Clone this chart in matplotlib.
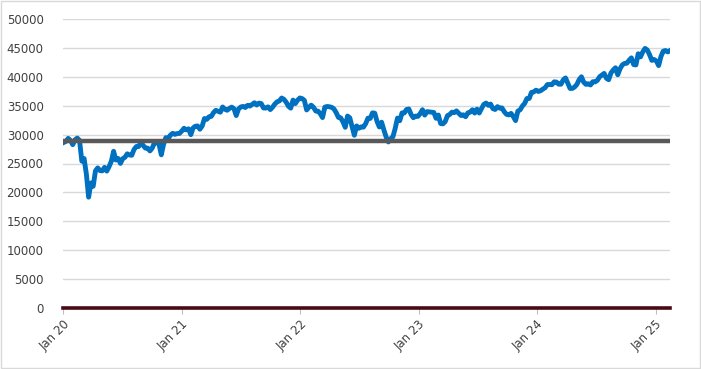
import matplotlib
matplotlib.use("Agg")

import matplotlib.pyplot as plt
import pandas as pd

# weekly closes
dates = pd.date_range("2020-01-03", "2025-02-14", freq="W-FRI")

values = [
    # 2020
    28634, 28823, 29348, 28990, 28256, 29103, 29398, 28992, 25409, 25865,
    23186, 19174, 21637, 21053, 23719, 24242, 23775, 23724, 24331, 23685,
    24465, 25383, 27111, 25606, 25871, 25016, 25827, 26075, 26672, 26470,
    26428, 27433, 27931, 27930, 28654, 28133, 27666, 27657, 27174, 27683,
    28587, 28606, 28336, 26502, 28323, 29480, 29263, 29910, 30218, 30046,
    30179, 30200, 30606,
    # 2021
    31098, 30814, 30997, 29983, 31148, 31458, 31494, 30932, 31496, 32779,
    32628, 33073, 33153, 33801, 34200, 34043, 33875, 34778, 34382, 34208,
    34529, 34756, 34480, 33290, 34433, 34786, 34870, 34688, 35062, 34935,
    35209, 35515, 35120, 35455, 35369, 34608, 34584, 34798, 34326, 34746,
    35295, 35677, 35820, 36328, 36100, 35602, 34899, 34580, 35971, 35365,
    35951, 36338,
    # 2022
    36232, 35912, 34265, 34725, 35089, 34738, 34079, 34059, 33615, 32944,
    34755, 34862, 34818, 34721, 34451, 33811, 32977, 32899, 32197, 31262,
    33213, 32900, 31393, 29889, 31501, 31097, 31338, 31289, 31899, 32845,
    32803, 33761, 33707, 32283, 31318, 32152, 30822, 29590, 28726, 29297,
    29635, 31083, 32862, 32403, 33748, 33746, 34347, 34430, 33477, 32921,
    33204, 33147,
    # 2023
    33631, 34303, 33375, 33978, 33926, 33869, 33827, 32817, 33391, 31910,
    31862, 32238, 33274, 33485, 33886, 33809, 34098, 33674, 33301, 33427,
    33093, 33763, 33877, 34299, 33727, 34408, 33734, 34509, 35228, 35459,
    35066, 35281, 34500, 34346, 34838, 34577, 34618, 33964, 33508, 33407,
    33670, 33127, 32418, 34061, 34283, 34947, 35390, 36246, 36247, 37306,
    37385, 37690,
    # 2024
    37466, 37593, 37863, 38109, 38654, 38671, 38628, 39131, 39087, 38723,
    38715, 39476, 39807, 38904, 37983, 37986, 38240, 38676, 39513, 40004,
    39070, 38686, 38799, 38589, 39150, 39119, 39376, 40001, 40288, 40589,
    39737, 39498, 40660, 41175, 41563, 40345, 41394, 42063, 42313, 42353,
    42864, 43276, 42114, 42052, 43989, 43445, 44297, 44911, 44643, 43828,
    42840, 42992,
    # 2025
    42732, 41938, 43488, 44424, 44545, 44303, 44546,
]

base_value = 28868
zero_value = 0

y_ticks = list(range(0, 50001, 5000))
x_ticks = ["2020-01-01", "2021-01-01", "2022-01-01", "2023-01-01", "2024-01-01", "2025-01-01"]
x_labels = ["Jan 20", "Jan 21", "Jan 22", "Jan 23", "Jan 24", "Jan 25"]

fig = plt.figure(figsize=(7.01, 3.69), dpi=100)
ax = fig.add_axes([63 / 701, 61 / 369, 607 / 701, 289 / 369])

start = pd.Timestamp("2020-01-01")
end = dates[-1]

ax.plot(dates, values, color="#0070c0", lw=3.5, solid_joinstyle="round", zorder=3)
ax.plot([start, end], [base_value, base_value], color="#595959", lw=3.2, zorder=4)
ax.plot([start, end], [zero_value, zero_value], color="#4a0a14", lw=2.6, zorder=4, clip_on=False)

ax.set_xlim(start, end)
ax.set_ylim(0, 50000)
ax.set_yticks(y_ticks)
ax.set_yticklabels([str(v) for v in y_ticks])
ax.set_xticks([pd.Timestamp(d) for d in x_ticks])
ax.set_xticklabels(x_labels, rotation=45, ha="right", rotation_mode="anchor")

ax.grid(axis="y", color="#d9d9d9", lw=1)
ax.set_axisbelow(True)
for s in ax.spines.values():
    s.set_visible(False)
ax.tick_params(axis="y", length=0, pad=14, labelsize=8.5, labelcolor="#404040")
ax.tick_params(axis="x", length=4, color="#bfbfbf", pad=3, labelsize=8.5, labelcolor="#404040")

# chart border
fig.patches.append(plt.Rectangle((0.001, 0.002), 0.997, 0.995, transform=fig.transFigure,
                                 fill=False, ec="#d9d9d9", lw=1))

fig.savefig("out.png", dpi=100)
